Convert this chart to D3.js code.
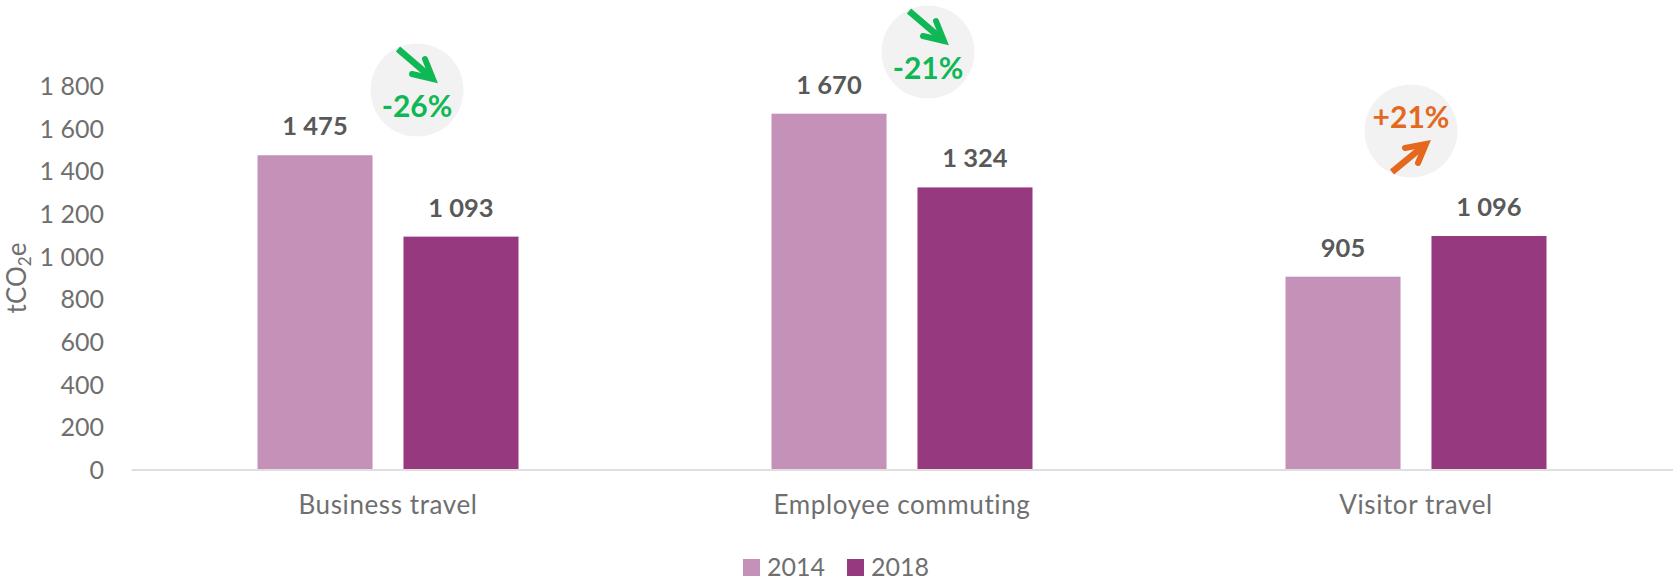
<!DOCTYPE html>
<html><head><meta charset="utf-8">
<script src="https://cdn.jsdelivr.net/npm/d3@7"></script>
<style>html,body{margin:0;background:#fff}svg{display:block}text{font-family:Lato,sans-serif}</style>
</head><body><svg id="c" width="1673" height="582"></svg>
<script>
const categories = ["Business travel","Employee commuting","Visitor travel"];
const series = ["2014","2018"];
const values2014 = [1475,1670,905];
const values2018 = [1093,1324,1096];
const tickValues = [0,200,400,600,800,1000,1200,1400,1600,1800];
const changeLabels = ["-26%","-21%","+21%"];
const changeDirections = ["down","down","up"];

const svg = d3.select("#c");
const colors = {"2014":"#c491b9","2018":"#96397e"};
const valuesBy = {"2014":values2014,"2018":values2018};
const fmt = v => d3.format(",")(v).replace(",", "\u00a0");
const x = d3.scaleBand().domain(categories).range([131,1673]);
const y = d3.scaleLinear().domain([0,1800]).range([469.5,86]);
const inner = d3.scaleBand().domain(series).range([-130.5,130.5]).paddingInner(0.212).paddingOuter(0);

series.forEach(s=>{
  const g = svg.append("g");
  g.selectAll("rect").data(categories).join("rect")
    .attr("x",(d)=>x(d)+x.bandwidth()/2+inner(s))
    .attr("width",inner.bandwidth())
    .attr("y",(d,i)=>y(valuesBy[s][i]))
    .attr("height",(d,i)=>y(0)-y(valuesBy[s][i]))
    .attr("fill",colors[s]);
  g.selectAll("text").data(categories).join("text")
    .attr("x",(d)=>x(d)+x.bandwidth()/2+inner(s)+inner.bandwidth()/2)
    .attr("y",(d,i)=>y(valuesBy[s][i])-20)
    .attr("text-anchor","middle").attr("font-size",25.5).attr("font-weight",700).attr("fill","#595959")
    .text((d,i)=>fmt(valuesBy[s][i]));
});

// axes
const yAxis = d3.axisLeft(y).tickValues(tickValues).tickSize(0).tickPadding(0).tickFormat(fmt);
const ya = svg.append("g").attr("transform","translate(104,0)").call(yAxis);
ya.select(".domain").remove();
ya.selectAll("text").attr("font-size",25).attr("fill","#6f6f6f").attr("dy","0.35em").style("font-family","Lato,sans-serif");

const xAxis = d3.axisBottom(x).tickSize(0).tickPadding(26);
const xa = svg.append("g").attr("transform",`translate(0,${y(0)})`).call(xAxis);
xa.select(".domain").attr("stroke","#dfdfdf").attr("stroke-width",2);
xa.selectAll("text").attr("font-size",26).attr("letter-spacing",0.6).attr("fill","#6f6f6f").style("font-family","Lato,sans-serif");

// y title
const yt = svg.append("text").attr("transform","translate(26,278) rotate(-90)")
  .attr("text-anchor","middle").attr("font-size",26).attr("fill","#6f6f6f");
yt.append("tspan").text("tCO");
yt.append("tspan").text("2").attr("font-size",17).attr("dy",5);
yt.append("tspan").text("e").attr("dy",-5);

// badges
const badgeCenters = [[417,90],[928,52],[1411,131]];
const arrowColor = {down:"#10b755",up:"#e5681f"};
categories.forEach((c,i)=>{
  const [cx,cy] = badgeCenters[i], dir = changeDirections[i], s = dir==="down"?-1:1;
  const g = svg.append("g").attr("transform",`translate(${cx},${cy})`);
  g.append("circle").attr("r",46.5).attr("fill","#f2f2f2");
  const col = arrowColor[dir];
  const tip = s<0?[16,-11]:[15,13];
  const start = s<0?[-19,-41]:[-19,41];
  const b1 = s<0?[-5,-16]:[-6,17];
  const b2 = s<0?[8,-31]:[7,32];
  g.append("line").attr("x1",start[0]).attr("y1",start[1]).attr("x2",tip[0]).attr("y2",tip[1])
    .attr("stroke",col).attr("stroke-width",6.5);
  g.append("path").attr("d",`M${b1}L${tip}L${b2}`).attr("fill","none").attr("stroke",col)
    .attr("stroke-width",6).attr("stroke-linecap","round").attr("stroke-linejoin","miter");
  g.append("text").attr("text-anchor","middle").attr("y",s<0?27:-3).attr("font-size",30)
    .attr("font-weight",700).attr("fill",col).text(changeLabels[i]);
});

// legend
const lx = [743,847];
series.forEach((s,i)=>{
  svg.append("rect").attr("x",lx[i]).attr("y",559).attr("width",17).attr("height",17).attr("fill",colors[s]);
  svg.append("text").attr("x",lx[i]+24).attr("y",575.5).attr("font-size",25).attr("fill","#6f6f6f").text(s);
});
</script></body></html>
